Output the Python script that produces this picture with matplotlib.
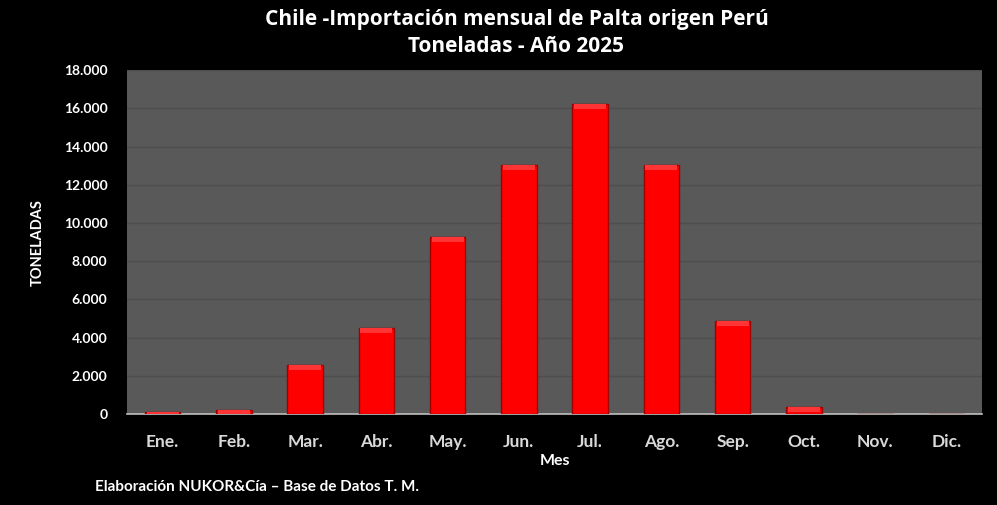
import matplotlib
matplotlib.use('Agg')
import matplotlib.pyplot as plt
import numpy as np
from matplotlib.ticker import FuncFormatter

plt.rcParams['font.family'] = ['Lato', 'DejaVu Sans']

meses = ['Ene.', 'Feb.', 'Mar.', 'Abr.', 'May.', 'Jun.', 'Jul.', 'Ago.', 'Sep.', 'Oct.', 'Nov.', 'Dic.']
toneladas = [110, 220, 2560, 4500, 9270, 13040, 16230, 13040, 4870, 370, 30, 0]

fig = plt.figure(figsize=(9.97, 5.05), dpi=100, facecolor='black')
ax = fig.add_axes([0.1274, 0.180, 0.8576, 0.681])
ax.set_facecolor('#595959')

x = np.arange(len(meses))
ax.bar(x, toneladas, width=0.5, color='#ff0000', edgecolor='#a00000', linewidth=1.0, zorder=3)
# brillo superior (efecto bisel)
cap = [min(v, 260) for v in toneladas]
ax.bar(x, cap, width=0.45, bottom=[v - c for v, c in zip(toneladas, cap)],
       color='#ff3535', linewidth=0, zorder=4)

ax.set_xlim(-0.5, 11.5)
ax.set_ylim(0, 18000)
ax.set_yticks(np.arange(0, 18001, 2000))
ax.yaxis.set_major_formatter(FuncFormatter(lambda v, p: f'{int(v):,}'.replace(',', '.')))
ax.grid(axis='y', color='#4e4e4e', linewidth=1.0, zorder=0)
ax.set_xticks(x)
ax.set_xticklabels(meses)

for s in ['top', 'right', 'left']:
    ax.spines[s].set_visible(False)
ax.spines['bottom'].set_color('#bfbfbf')
ax.spines['bottom'].set_linewidth(1.2)

ax.tick_params(axis='x', length=0, pad=14, labelsize=12.5, labelcolor='#d9d9d9')
ax.tick_params(axis='y', length=0, pad=14, labelsize=10, labelcolor='white')
for lb in ax.get_xticklabels() + ax.get_yticklabels():
    lb.set_fontweight('bold')

ax.set_xlabel('Mes', color='white', fontsize=11.5, fontweight='bold', labelpad=3)
ax.set_ylabel('TONELADAS', color='white', fontsize=10.5, fontweight='bold', labelpad=14)

fig.text(0.518, 0.961, 'Chile -Importación mensual de Palta origen Perú',
         ha='center', va='center', color='white', fontsize=15, fontweight='bold',
         family=['Open Sans', 'DejaVu Sans'])
fig.text(0.518, 0.907, 'Toneladas - Año 2025',
         ha='center', va='center', color='white', fontsize=15, fontweight='bold',
         family=['Open Sans', 'DejaVu Sans'])
fig.text(0.095, 0.035, 'Elaboración NUKOR&Cía – Base de Datos T. M.',
         ha='left', va='center', color='white', fontsize=11, fontweight='bold')

fig.savefig('out.png', dpi=100, facecolor='black')
